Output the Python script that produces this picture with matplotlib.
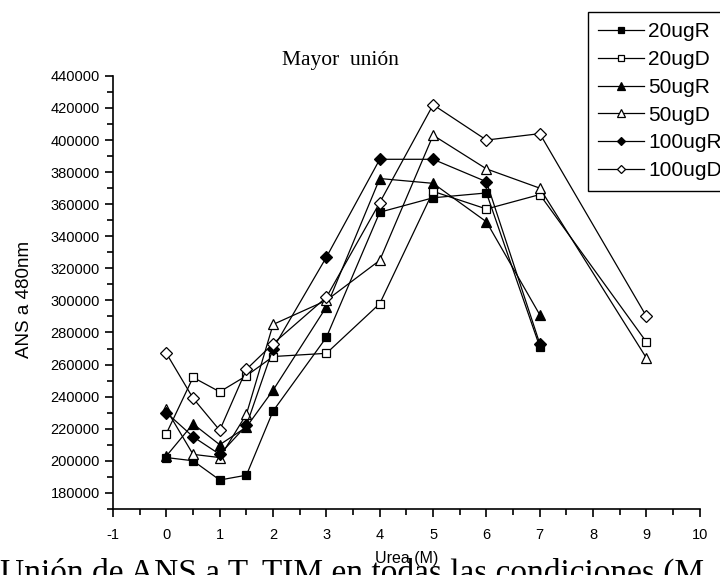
import numpy as np
import matplotlib
matplotlib.use('Agg')
import matplotlib.pyplot as plt
from matplotlib.ticker import MultipleLocator

plt.rcParams['font.family'] = ['Liberation Sans', 'DejaVu Sans']
plt.rcParams['axes.unicode_minus'] = False

# urea concentration (M)
x_short = [0, 0.5, 1, 1.5, 2, 3, 4, 5, 6, 7]
x_long = [0, 0.5, 1, 1.5, 2, 3, 4, 5, 6, 7, 9]

# ANS fluorescence at 480 nm
ug20R = [202000, 200000, 188000, 191000, 231000, 277000, 355000, 364000, 367000, 271000]
ug20D = [217000, 252000, 243000, 253000, 265000, 267000, 298000, 368000, 357000, 366000, 274000]
ug50R = [203000, 223000, 210000, 221000, 244000, 296000, 376000, 373000, 349000, 291000]
ug50D = [232000, 204000, 202000, 229000, 285000, 300000, 325000, 403000, 382000, 370000, 264000]
ug100R = [230000, 215000, 204000, 222000, 270000, 327000, 388000, 388000, 374000, 273000]
ug100D = [267000, 239000, 219000, 257000, 273000, 302000, 361000, 422000, 400000, 404000, 290000]

series = [
    ('20ugR', x_short, ug20R, 's', 'black', 6),
    ('20ugD', x_long, ug20D, 's', 'white', 6),
    ('50ugR', x_short, ug50R, '^', 'black', 7.5),
    ('50ugD', x_long, ug50D, '^', 'white', 7.5),
    ('100ugR', x_short, ug100R, 'D', 'black', 6),
    ('100ugD', x_long, ug100D, 'D', 'white', 6),
]

fig = plt.figure(figsize=(7.2, 5.75), dpi=100)
ax = fig.add_axes([0.157, 0.115, 0.815, 0.753])

for name, xs, ys, mk, fc, ms in series:
    ax.plot(xs, ys, color='black', lw=0.9, marker=mk, markersize=ms,
            markerfacecolor=fc, markeredgecolor='black', markeredgewidth=0.9,
            label=name)

ax.set_xlim(-1, 10)
ax.xaxis.set_major_locator(MultipleLocator(1))
ax.xaxis.set_minor_locator(MultipleLocator(0.5))
ax.yaxis.set_minor_locator(MultipleLocator(10000))
ax.set_yticks(np.arange(180000, 440001, 20000))
ax.set_ylim(170000, 440000)

for s in ['top', 'right']:
    ax.spines[s].set_visible(False)
for s in ['left', 'bottom']:
    ax.spines[s].set_linewidth(1.2)

ax.tick_params(axis='both', which='major', direction='out', length=6, width=1.2,
               labelsize=10.5)
ax.tick_params(axis='both', which='minor', direction='out', length=4, width=1.2)
ax.tick_params(axis='x', pad=8)

ax.set_xlabel('Urea (M)', fontsize=11.5)
ax.xaxis.set_label_coords(0.5, -0.097)
ax.set_ylabel('ANS a 480nm', fontsize=13.5)
ax.yaxis.set_label_coords(-0.137, 0.483)

fig.text(340 / 720, 1 - 60 / 575, 'Mayor  unión', ha='center', va='center',
         family='Liberation Serif', fontsize=15.5)

leg = fig.legend(loc='upper left', bbox_to_anchor=(588 / 720, 1 - 12 / 575),
                 fontsize=15, frameon=True, fancybox=False, edgecolor='black',
                 framealpha=1, handlelength=2.2, handletextpad=0.2,
                 labelspacing=0.42, borderpad=0.5, borderaxespad=0,
                 markerscale=0.75)
leg.get_frame().set_linewidth(1.0)

# caption running off the bottom edge, under the axis label
fig.text(0.0, -7 / 575, 'Unión de ANS a T. TIM en todas las condiciones (M',
         ha='left', va='baseline', family='Liberation Serif', fontsize=24,
         zorder=-1)

fig.savefig('out.png', dpi=100)
